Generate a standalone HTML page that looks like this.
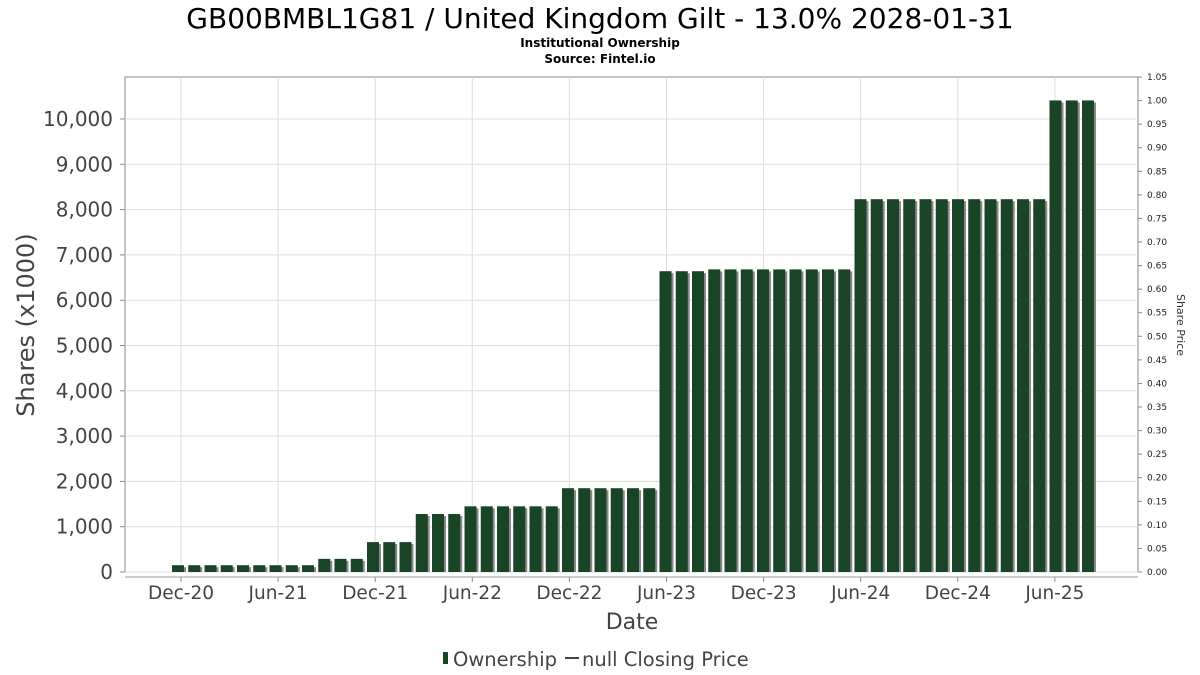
<!DOCTYPE html>
<html><head><meta charset="utf-8"><style>
body{margin:0;background:#fff;font-family:"DejaVu Sans","Liberation Sans",sans-serif}
svg{display:block}
</style></head><body>
<svg id="c" width="1200" height="675" xmlns="http://www.w3.org/2000/svg">
<text x="600" y="28" text-anchor="middle" font-size="28" fill="#000">GB00BMBL1G81 / United Kingdom Gilt - 13.0% 2028-01-31</text>
<text x="600" y="47" text-anchor="middle" font-size="12" font-weight="bold">Institutional Ownership</text>
<text x="600" y="63" text-anchor="middle" font-size="12" font-weight="bold">Source: Fintel.io</text>
<rect x="125" y="77" width="1013" height="495" fill="#fff" stroke="#888"/>
<g id="grid"></g><g id="bars"></g><g id="axes"></g>
<text transform="translate(34,325) rotate(-90)" text-anchor="middle" font-size="24" fill="#444">Shares (x1000)</text>
<text transform="translate(1177,325) rotate(90)" text-anchor="middle" font-size="11" fill="#333">Share Price</text>
<text x="632" y="629" text-anchor="middle" font-size="22" fill="#444">Date</text>
<g>
<rect x="443" y="652" width="5" height="12" fill="#1a4426"/>
<text x="453" y="666" font-size="19.5" fill="#444">Ownership</text>
<line x1="565" y1="658" x2="579" y2="658" stroke="#444" stroke-width="2"/>
<text x="582" y="666" font-size="19.5" fill="#444">null Closing Price</text>
</g>
</svg>
<script>
const values=[150,150,150,150,150,150,150,150,150,290,290,290,660,660,660,1280,1280,1280,1450,1450,1450,1450,1450,1450,1850,1850,1850,1850,1850,1850,6640,6640,6640,6680,6680,6680,6680,6680,6680,6680,6680,6680,8230,8230,8230,8230,8230,8230,8230,8230,8230,8230,8230,8230,10410,10410,10410];
const yTicks=[0,1000,2000,3000,4000,5000,6000,7000,8000,9000,10000];
const xLabels=["Dec-20","Jun-21","Dec-21","Jun-22","Dec-22","Jun-23","Dec-23","Jun-24","Dec-24","Jun-25"];
const y2Ticks=[0,0.05,0.1,0.15,0.2,0.25,0.3,0.35,0.4,0.45,0.5,0.55,0.6,0.65,0.7,0.75,0.8,0.85,0.9,0.95,1.0,1.05];
const NS="http://www.w3.org/2000/svg";
const y=v=>572-v*0.0453;
const y2=v=>572-v*471.4;
const xBar=i=>178+i*16.25;
const xLab=i=>181+i*97.1;
function mk(t,a,p){const e=document.createElementNS(NS,t);for(const k in a)e.setAttribute(k,a[k]);p.appendChild(e);return e;}
const grid=document.getElementById('grid'),bars=document.getElementById('bars'),axes=document.getElementById('axes');
yTicks.forEach(v=>{
 const l=mk('line',{x1:125,x2:1138,y1:y(v),y2:y(v),stroke:'#ddd'},grid);
 
 
 const t=mk('text',{x:113,y:y(v)+7,'text-anchor':'end','font-size':20,fill:'#444'},axes);
 t.textContent=v.toLocaleString('en-US');
 
 
 mk('line',{x1:120,x2:125,y1:y(v),y2:y(v),stroke:'#888'},axes);
});
xLabels.forEach((s,i)=>{
 const l=mk('line',{x1:xLab(i),x2:xLab(i),y1:77,y2:572,stroke:'#ddd'},grid);
 
 
 mk('line',{x1:xLab(i),x2:xLab(i),y1:577,y2:582,stroke:'#888'},axes);
 const t=mk('text',{x:xLab(i),y:599,'text-anchor':'middle','font-size':18.5,fill:'#444'},axes);
 t.textContent=s;
 
 
});
mk('line',{x1:125,x2:1138,y1:577,y2:577,stroke:'#999'},axes);
y2Ticks.forEach(v=>{
 mk('line',{x1:1138,x2:1142,y1:y2(v),y2:y2(v),stroke:'#888'},axes);
 const t=mk('text',{x:1147,y:y2(v)+3,'font-size':9,fill:'#222'},axes);
 t.textContent=v.toFixed(2);
 
 
});
values.forEach((v,i)=>{
 const cx=xBar(i);
 mk('rect',{x:cx-4,y:y(v)+2,width:12,height:572-y(v)-2,fill:'#888'},bars);
 const b=mk('rect',{x:cx-6,y:y(v),width:12,height:572-y(v),fill:'#1a4426'},bars);
 
 
});
</script>
</body></html>
